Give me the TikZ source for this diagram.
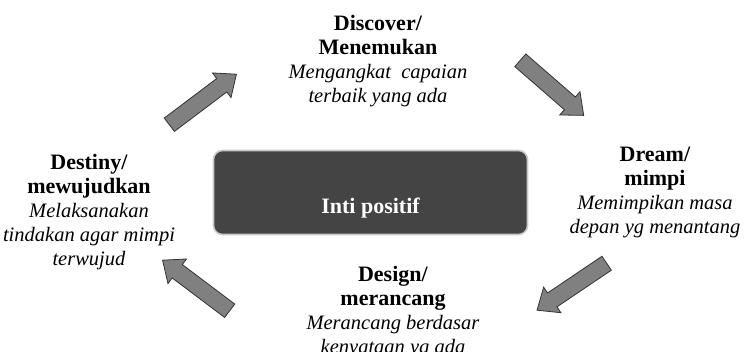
\documentclass[tikz,border=0pt]{standalone}
\usepackage{fontspec}
\setmainfont{Liberation Serif}
\usetikzlibrary{shapes.arrows,positioning}
\definecolor{coregray}{RGB}{68,68,68}
\definecolor{rimgray}{RGB}{200,200,200}
\definecolor{arrowgray}{RGB}{128,128,128}
\newcommand{\stagetitle}[1]{{\fontsize{22}{24}\selectfont\textbf{#1}}}
\newcommand{\stagetext}[1]{{\fontsize{20.5}{24}\selectfont\textit{#1}}}
\tikzset{
	stage/.style={
		align=center,
		inner sep=0pt,
		font=\fontsize{20.5}{24}\selectfont,
	},
	core/.style={
		rectangle,
		rounded corners=9pt,
		line width=1.6pt,
		draw=rimgray,
		fill=coregray,
		minimum width=314pt,
		minimum height=84pt,
	},
	coretext/.style={
		font=\fontsize{22}{24}\selectfont\bfseries\color{white},
	},
	cyclearrow/.style={
		single arrow,
		draw=black!80,
		fill=arrowgray,
		line width=0.8pt,
		inner xsep=0pt,
		inner ysep=8pt,
		minimum height=84pt,
		minimum width=30pt,
		single arrow head extend=7pt,
		single arrow tip angle=80,
		anchor=tail,
	},
}

\begin{document}
\begin{tikzpicture}[x=1pt,y=-1pt]
	\useasboundingbox (0,0) rectangle (744,351);

	\node [core] (core) at (370.5,192.5) {};
	\node [coretext] (inti) at ([yshift=-16pt]core.center) {Inti positif};

	\node [stage] (discover) at (378,61) {%
		\stagetitle{Discover/}\\
		\stagetitle{Menemukan}\\
		\stagetext{Mengangkat\ \ capaian}\\
		\stagetext{terbaik yang ada}};

	\node [stage] (dream) at (655,192) {%
		\stagetitle{Dream/}\\
		\stagetitle{mimpi}\\
		\stagetext{Memimpikan masa}\\
		\stagetext{depan yg menantang}};

	\node [stage] (design) at (393,312) {%
		\stagetitle{Design/}\\
		\stagetitle{merancang}\\
		\stagetext{Merancang berdasar}\\
		\stagetext{kenyataan yg ada}};

	\node [stage] (destiny) at (89,212) {%
		\stagetitle{Destiny/}\\
		\stagetitle{mewujudkan}\\
		\stagetext{Melaksanakan}\\
		\stagetext{tindakan agar mimpi}\\
		\stagetext{terwujud}};

	% arrows of the cycle
	\node [cyclearrow,rotate=37] (a1) at (169,125) {};
	\node [cyclearrow,rotate=-41] (a2) at (520,60) {};
	\node [cyclearrow,rotate=214] (a3) at (607,263) {};
	\node [cyclearrow,rotate=143] (a4) at (230,311) {};
\end{tikzpicture}
\end{document}
